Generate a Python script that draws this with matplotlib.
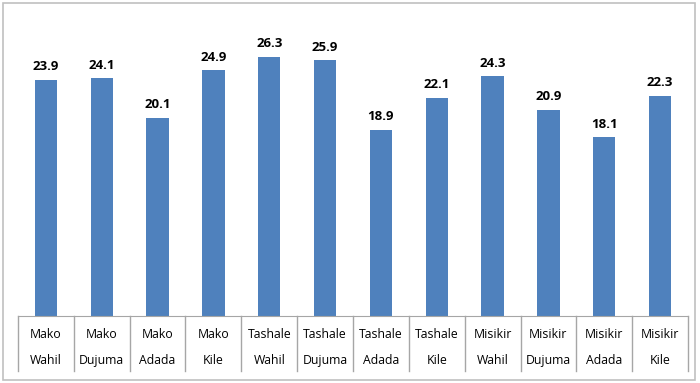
import matplotlib.pyplot as plt
from matplotlib.patches import Rectangle

sites = ['Mako', 'Mako', 'Mako', 'Mako', 'Tashale', 'Tashale', 'Tashale', 'Tashale',
         'Misikir', 'Misikir', 'Misikir', 'Misikir']
seasons = ['Wahil', 'Dujuma', 'Adada', 'Kile'] * 3
values = [23.9, 24.1, 20.1, 24.9, 26.3, 25.9, 18.9, 22.1, 24.3, 20.9, 18.1, 22.3]

plt.rcParams['font.family'] = ['Open Sans', 'DejaVu Sans']

fig = plt.figure(figsize=(7, 3.83), dpi=100)
ax = fig.add_axes([18 / 700, 67 / 383, 670 / 700, 296 / 383])

# chart border
fig.patches.append(Rectangle((3 / 700, 3 / 383), 692 / 700, 377 / 383, transform=fig.transFigure,
                             fill=False, edgecolor='#c0c0c0', linewidth=1.2))

x = range(len(values))
ax.bar(x, values, width=0.4, color='#4f81bd')
ax.set_xlim(-0.5, len(values) - 0.5)
ax.set_ylim(0, 30)

for i, v in enumerate(values):
    ax.annotate(f'{v}', (i, v), xytext=(0, 9.5), textcoords='offset points',
                ha='center', va='center', fontsize=9.5, fontweight='bold')

# category table under the axis
tr = ax.get_xaxis_transform()
for i in range(len(values) + 1):
    ax.plot([i - 0.5, i - 0.5], [0, -0.186], transform=tr, color='#a6a6a6',
            linewidth=1, clip_on=False)
for i, (s, sea) in enumerate(zip(sites, seasons)):
    ax.text(i, -0.064, s, transform=tr, ha='center', va='center', fontsize=8.8)
    ax.text(i, -0.152, sea, transform=tr, ha='center', va='center', fontsize=8.8)

for side in ['top', 'right', 'left']:
    ax.spines[side].set_visible(False)
ax.spines['bottom'].set_color('#a6a6a6')
ax.set_xticks([])
ax.set_yticks([])

fig.savefig('out.png', dpi=100)
